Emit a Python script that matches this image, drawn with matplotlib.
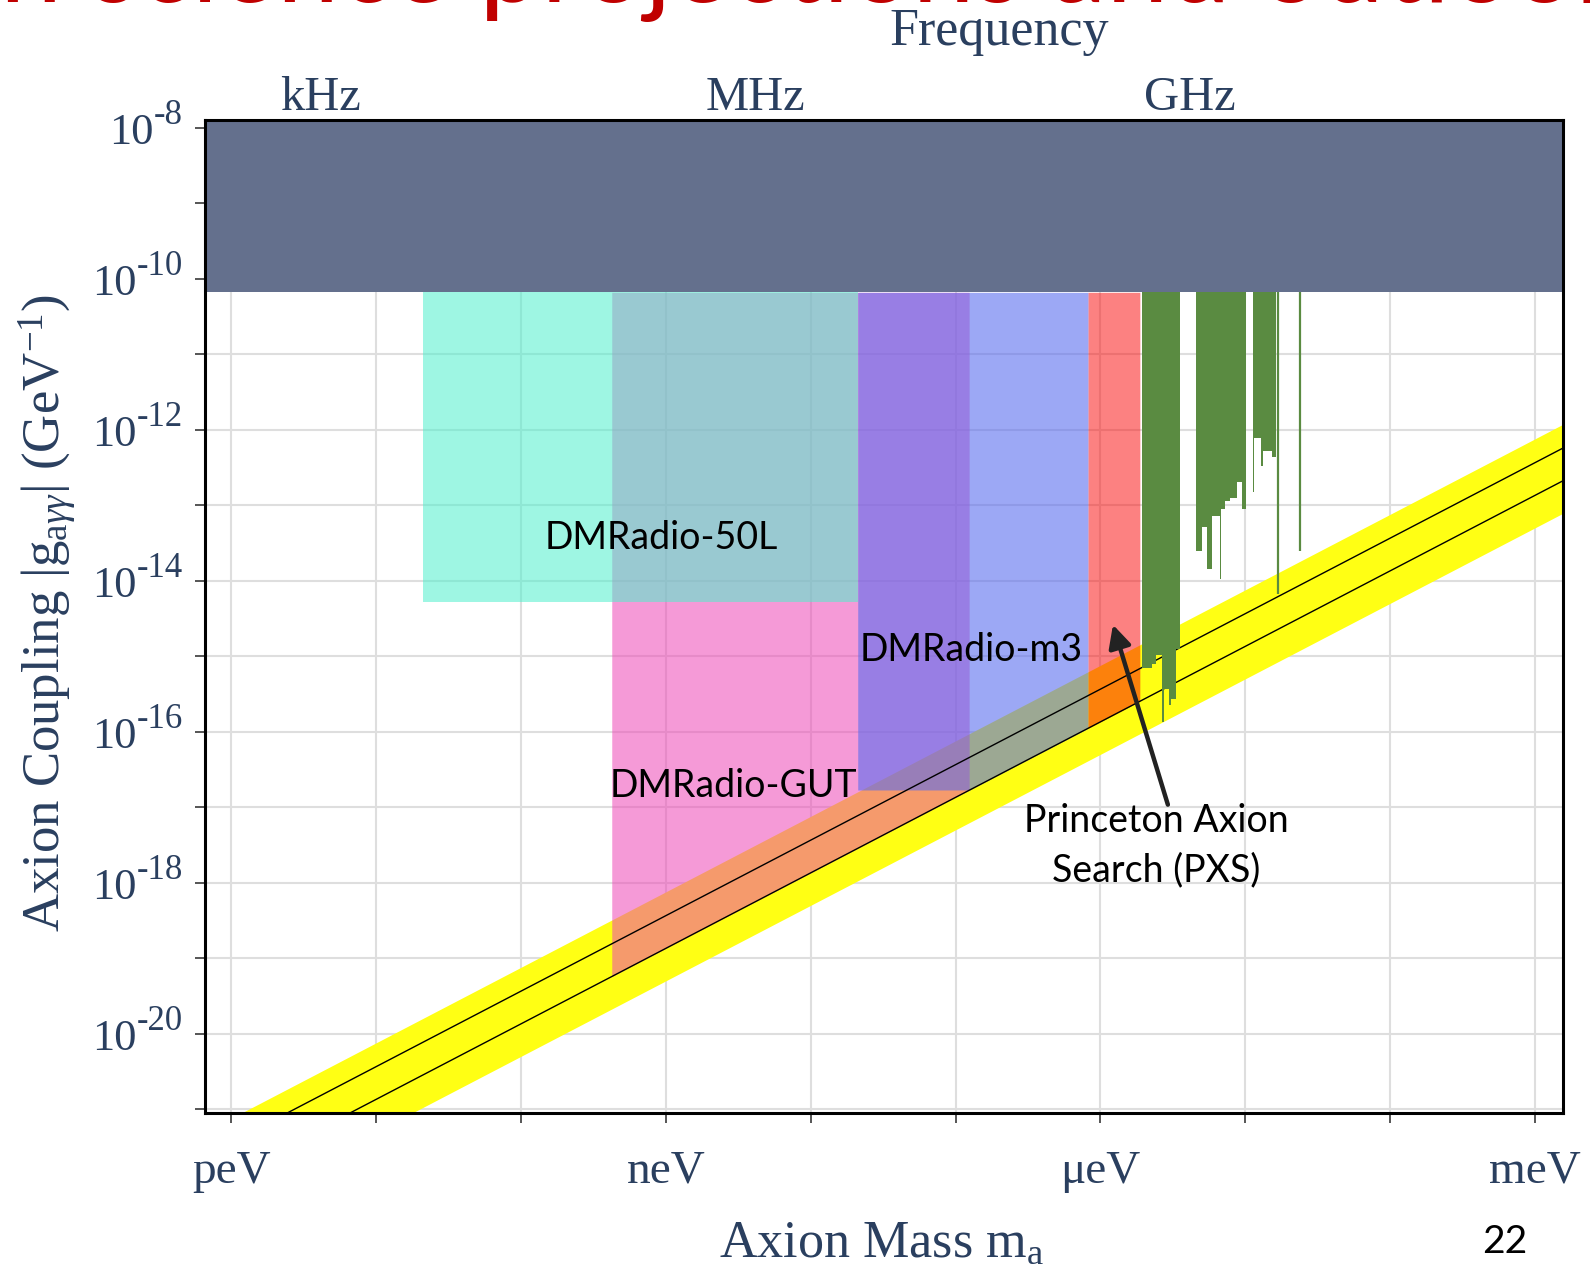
import numpy as np
import matplotlib
matplotlib.use('Agg')
import matplotlib.pyplot as plt
from matplotlib import transforms

# ---------------- data ----------------
mass_range = [6.53e-13, 1.56e-3]          # eV
coupling_range = [8.9e-22, 1.265e-8]      # GeV^-1

mass_ticks = [1e-12, 1e-11, 1e-10, 1e-9, 1e-8, 1e-7, 1e-6, 1e-5, 1e-4, 1e-3]
mass_tick_labels = ['peV', '', '', 'neV', '', '', 'μeV', '', '', 'meV']
coupling_ticks = [1e-21, 1e-20, 1e-19, 1e-18, 1e-17, 1e-16, 1e-15, 1e-14,
                  1e-13, 1e-12, 1e-11, 1e-10, 1e-9, 1e-8]
coupling_label_values = [1e-8, 1e-10, 1e-12, 1e-14, 1e-16, 1e-18, 1e-20]
coupling_label_exps = ['-8', '-10', '-12', '-14', '-16', '-18', '-20']

freq_labels = ['kHz', 'MHz', 'GHz']
freq_masses = [4.136e-12, 4.136e-9, 4.136e-6]

cast_limit = 6.6e-11

qcd_mass = [1e-13, 1e-2]
qcd_upper = [7.4e-23, 7.4e-12]
qcd_lower = [4.9e-24, 4.9e-13]
ksvz_line = [3.66e-23, 3.66e-12]
dfsz_line = [1.35e-23, 1.35e-12]
dfsz_per_ev = 1.35e-10

region_names = ['DMRadio-GUT', 'DMRadio-50L', 'DMRadio-m3', 'PXS']
region_m_lo = [4.23e-10, 2.10e-11, 2.11e-8, 8.21e-7]
region_m_hi = [1.24e-7, 2.11e-8, 8.21e-7, 1.87e-6]
region_floor = [0.0, 5.2e-15, 1.69e-17, 0.0]
region_colors = ['#ee46b7', '#4ef0cd', '#586bee', '#fa0505']
region_alpha = [0.545, 0.55, 0.588, 0.5]

# haloscope exclusions (step bottoms)
green1_edges = [1.928e-6, 2.270e-6, 2.421e-6, 2.679e-6, 2.742e-6, 2.985e-6, 3.090e-6, 3.327e-6, 3.540e-6]
green1_bottom = [7.08e-16, 7.94e-16, 1.05e-15, 1.35e-16, 3.72e-16, 2.29e-16, 2.75e-16, 1.26e-15]
green2_edges = [4.550e-6, 5.047e-6, 5.470e-6, 5.916e-6, 6.730e-6, 6.823e-6, 7.244e-6, 7.834e-6, 8.730e-6, 9.441e-6, 1.0116e-5]
green2_bottom = [2.51e-14, 5.13e-14, 1.45e-14, 7.24e-14, 1.05e-14, 8.91e-14, 1.15e-13, 1.23e-13, 2.00e-13, 8.91e-14]
green3_edges = [1.135e-5, 1.156e-5, 1.288e-5, 1.318e-5, 1.521e-5, 1.629e-5]
green3_bottom = [1.48e-13, 7.76e-13, 3.31e-13, 5.25e-13, 4.37e-13]
green_line_mass = [1.690e-5, 2.388e-5]
green_line_bottom = [6.76e-15, 2.51e-14]

# ---------------- style ----------------
plt.rcParams['mathtext.fontset'] = 'custom'
plt.rcParams['mathtext.rm'] = 'Liberation Serif'
plt.rcParams['mathtext.it'] = 'Liberation Serif:italic'
plt.rcParams['mathtext.bf'] = 'Liberation Serif:bold'

SERIF = 'Liberation Serif'
SANS = 'Lato'
TXT = '#2a3f5f'

fig = plt.figure(figsize=(15.9, 12.67), dpi=100)
ax = fig.add_axes([0.12862, 0.12155, 0.85440, 0.78374])
ax.set_xscale('log')
ax.set_yscale('log')
ax.set_xlim(mass_range)
ax.set_ylim(coupling_range)

ax.set_axisbelow(True)
ax.grid(True, which='major', color='#dedede', lw=1.5)
ax.xaxis.set_minor_locator(matplotlib.ticker.NullLocator())
ax.yaxis.set_minor_locator(matplotlib.ticker.NullLocator())
ax.set_xticks(mass_ticks)
ax.set_xticklabels(mass_tick_labels, fontsize=34, family=SERIF, color=TXT)
ax.set_yticks(coupling_ticks)
ax.set_yticklabels([''] * len(coupling_ticks))
ax.tick_params(axis='both', which='major', direction='out', length=7, width=1.4,
               color='#555555')
ax.tick_params(axis='x', pad=20)
for s in ax.spines.values():
    s.set_linewidth(2.2)
    s.set_color('black')
    s.set_zorder(20)

# QCD band
ax.fill_between(qcd_mass, qcd_lower, qcd_upper, color='#ffff14', lw=0, zorder=1)

# projection regions
for lo, hi, fl, col, al in zip(region_m_lo, region_m_hi, region_floor, region_colors, region_alpha):
    pts = [lo, hi]
    if fl > 0:
        corner = fl / dfsz_per_ev
        if lo < corner < hi:
            pts = [lo, corner, hi]
    pts = np.array(pts)
    lower = np.maximum(fl, dfsz_per_ev * pts)
    ax.fill_between(pts, lower, cast_limit, color=col, alpha=al, lw=0, zorder=2)

# KSVZ / DFSZ lines
ax.plot(qcd_mass, ksvz_line, color='black', lw=1.0, zorder=6)
ax.plot(qcd_mass, dfsz_line, color='black', lw=1.0, zorder=6)

# haloscope exclusions
GREEN = '#5a8b41'
for edges, bottoms in [(green1_edges, green1_bottom), (green2_edges, green2_bottom),
                       (green3_edges, green3_bottom)]:
    yb = list(bottoms) + [bottoms[-1]]
    ax.fill_between(edges, yb, cast_limit, step='post', color=GREEN, lw=0, zorder=7)
ax.vlines(green_line_mass, green_line_bottom, cast_limit, color=GREEN, lw=1.6, zorder=7)

# CAST-like excluded band
ax.axhspan(cast_limit, coupling_range[1] * 10, color='#64708d', lw=0, zorder=8)

# region labels
lab_kw = dict(family=SANS, fontsize=27, color='black', zorder=10)
ax.text(9.25e-10, 3.73e-14, 'DMRadio-50L', ha='center', va='center', **lab_kw)
ax.text(1.29e-7, 1.21e-15, 'DMRadio-m3', ha='center', va='center', **lab_kw)
ax.text(2.93e-9, 1.91e-17, 'DMRadio-GUT', ha='center', va='center', **lab_kw)
ax.text(2.42e-6, 3.06e-18, 'Princeton Axion\nSearch (PXS)', ha='center', va='center',
        linespacing=1.45, **lab_kw)
ax.annotate('', xy=(1.22e-6, 2.61e-15), xytext=(2.92e-6, 1.08e-17),
            arrowprops=dict(arrowstyle='-|>', color='#222222', lw=3.2,
                            mutation_scale=34, shrinkA=0, shrinkB=0), zorder=11)

# frequency labels on top
for fm, fl in zip(freq_masses, freq_labels):
    ax.text(fm, 1 + 10 / 993, fl, transform=ax.get_xaxis_transform(), ha='center',
            va='baseline', fontsize=35, family=SERIF, color=TXT)
fig.text(999 / 1590, 1 - 44.5 / 1267, 'Frequency', ha='center', va='baseline',
         fontsize=37.5, family=SERIF, color=TXT)

# axis labels
ax.set_xlabel(r'Axion Mass m$_{\mathrm{a}}$', fontsize=37.5, family=SERIF, color=TXT)
ax.xaxis.set_label_coords(0.4987, -0.145)
ax.xaxis.label.set_va('baseline')
ax.set_ylabel(r'Axion Coupling $|\mathrm{g}_{\mathrm{a}\gamma\gamma}|$ (GeV$^{\mathrm{-1}}$)',
              fontsize=38, family=SERIF, color=TXT)
ax.yaxis.set_label_coords(-0.116, 0.503)
ax.yaxis.label.set_va('center')
ax.yaxis.label.set_ha('center')

# slide title fragment and page number
fig.text(0 / 1590, 1 - 2 / 1267, 'n science projections and outlook',
         ha='left', va='baseline', fontsize=80, family=SANS, color='#c00000')
fig.text(1505 / 1590, 1 - 1253 / 1267, '22', ha='center', va='baseline',
         fontsize=28, family=SANS, color='black')

# y tick labels: "10" with superscript exponent
fig.canvas.draw()
r = fig.canvas.get_renderer()
base = ax.get_yaxis_transform()
for val, ex in zip(coupling_label_values, coupling_label_exps):
    tr_sup = transforms.offset_copy(base, fig=fig, x=-21.5, y=3.3, units='dots')
    sup = ax.text(0, val, ex, transform=tr_sup, ha='right', va='baseline',
                  fontsize=25, family=SERIF, color=TXT)
    w = sup.get_window_extent(r).width
    tr_main = transforms.offset_copy(base, fig=fig, x=-21.5 - w, y=-16.5, units='dots')
    ax.text(0, val, '10', transform=tr_main, ha='right', va='baseline',
            fontsize=32, family=SERIF, color=TXT)

fig.savefig('out.png', dpi=100)
